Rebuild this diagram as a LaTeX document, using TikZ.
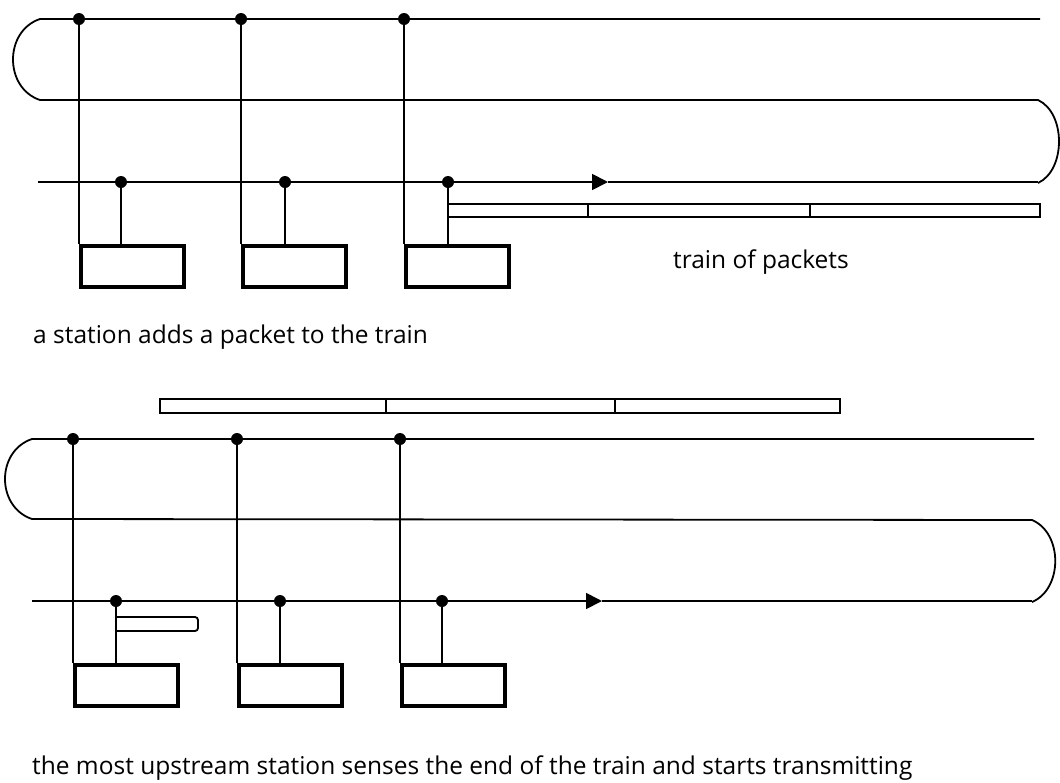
\documentclass[tikz,border=0pt]{standalone}
\usepackage{fontspec}
\setmainfont{Open Sans}
\usetikzlibrary{arrows.meta}

\tikzset{
    filo/.style={line width=1.8pt},
    stazione/.style={draw, line width=3.6pt, minimum width=103pt, minimum height=41pt, inner sep=0pt, anchor=north west},
    pacchetto/.style={line width=1.8pt},
    didascalia/.style={anchor=base west, inner sep=0pt, font=\fontsize{24.5}{28}\selectfont},
    freccia/.style={-{Triangle[length=16pt,width=16pt]}}
}

\begin{document}
\begin{tikzpicture}[x=1pt, y=-1pt]
    \useasboundingbox (0,0) rectangle (1060,782);

    %%%% primo disegno
    %punti di aggancio
    \coordinate (a1) at (79,19);
    \coordinate (a2) at (241,19);
    \coordinate (a3) at (404,19);
    \coordinate (b1) at (121,182);
    \coordinate (b2) at (285,182);
    \coordinate (b3) at (448,182);
    %stazioni
    \node[stazione] (s1) at (79,244) {};
    \node[stazione] (s2) at (241,244) {};
    \node[stazione] (s3) at (404,244) {};
    %anello
    \draw[filo] (1040,19) -- (a3) -- (a2) -- (a1) -- (40,19)
        .. controls (4,31) and (4,88) .. (40,100) -- (1038,100)
        .. controls (1066,113) and (1066,170) .. (1038,183);
    \draw[filo, freccia] (38,182) -- (608,182);
    \draw[filo] (608,182) -- (1038,182);
    %collegamenti stazioni
    \draw[filo] (a1) -- (s1.north west);
    \draw[filo] (a2) -- (s2.north west);
    \draw[filo] (a3) -- (s3.north west);
    \draw[filo] (b1) -- (b1 |- s1.north);
    \draw[filo] (b2) -- (b2 |- s2.north);
    \draw[filo] (b3) -- (b3 |- s3.north);
    \foreach \p in {a1,a2,a3,b1,b2,b3} \fill (\p) circle (6pt);
    %treno di pacchetti
    \draw[pacchetto] (448,204) rectangle (1040,217);
    \draw[pacchetto] (588,204) -- (588,217);
    \draw[pacchetto] (810,204) -- (810,217);
    %label
    \node[didascalia] (treno) at (673,268) {train of packets};
    \node[didascalia] (cap1) at (33,343) {a station adds a packet to the train};

    %%%% secondo disegno
    %punti di aggancio
    \coordinate (c1) at (73,439);
    \coordinate (c2) at (237,439);
    \coordinate (c3) at (400,439);
    \coordinate (d1) at (116,601);
    \coordinate (d2) at (280,601);
    \coordinate (d3) at (442,601);
    %stazioni
    \node[stazione] (t1) at (73,663) {};
    \node[stazione] (t2) at (237,663) {};
    \node[stazione] (t3) at (400,663) {};
    %anello
    \draw[filo] (1034,439) -- (c3) -- (c2) -- (c1) -- (32,439)
        .. controls (-4,451) and (-4,507) .. (32,519) -- (1032,520)
        .. controls (1063,533) and (1063,589) .. (1032,602);
    \draw[filo, freccia] (32,601) -- (602,601);
    \draw[filo] (602,601) -- (1032,601);
    %collegamenti stazioni
    \draw[filo] (c1) -- (t1.north west);
    \draw[filo] (c2) -- (t2.north west);
    \draw[filo] (c3) -- (t3.north west);
    \draw[filo] (d1) -- (d1 |- t1.north);
    \draw[filo] (d2) -- (d2 |- t2.north);
    \draw[filo] (d3) -- (d3 |- t3.north);
    \foreach \p in {c1,c2,c3,d1,d2,d3} \fill (\p) circle (6pt);
    %treno in viaggio
    \draw[pacchetto] (160,399) rectangle (840,413);
    \draw[pacchetto] (386,399) -- (386,413);
    \draw[pacchetto] (615,399) -- (615,413);
    %nuovo pacchetto
    \draw[pacchetto, rounded corners=3pt] (116,617) -- (198,617) -- (198,631) -- (116,631);
    %label
    \node[didascalia] (cap2) at (32,774) {the most upstream station senses the end of the train and starts transmitting};
\end{tikzpicture}
\end{document}
